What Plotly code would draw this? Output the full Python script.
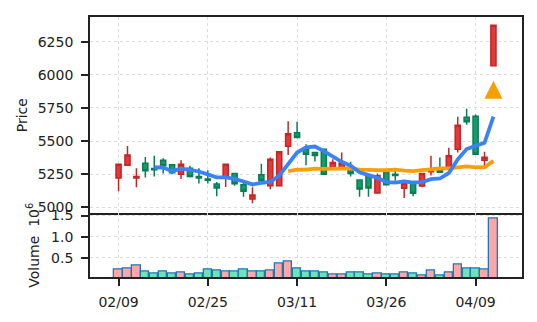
import plotly.graph_objects as go
from plotly.subplots import make_subplots
import pandas as pd

# ---- data ----
opens  = [5220, 5318, 5220, 5333, 5292, 5355, 5320, 5250, 5295, 5233,
          5213, 5175, 5228, 5255, 5170, 5063, 5245, 5163, 5163, 5460,
          5563, 5438, 5413, 5438, 5300, 5300, 5300, 5205, 5233, 5108,
          5263, 5250, 5143, 5180, 5160, 5268, 5280, 5300, 5438, 5680,
          5688, 5355, 6068]
highs  = [5325, 5463, 5295, 5380, 5388, 5370, 5325, 5355, 5313, 5295,
          5280, 5190, 5325, 5258, 5188, 5150, 5328, 5375, 5420, 5650,
          5645, 5475, 5420, 5440, 5363, 5413, 5343, 5208, 5235, 5255,
          5265, 5280, 5183, 5185, 5258, 5388, 5375, 5450, 5683, 5743,
          5700, 5420, 6375]
lows   = [5120, 5315, 5150, 5225, 5233, 5255, 5250, 5213, 5225, 5180,
          5180, 5083, 5153, 5163, 5080, 5030, 5198, 5135, 5160, 5395,
          5525, 5318, 5345, 5248, 5298, 5298, 5233, 5080, 5080, 5105,
          5168, 5200, 5070, 5083, 5150, 5240, 5263, 5298, 5413, 5623,
          5400, 5310, 6068]
closes = [5325, 5395, 5232, 5275, 5283, 5313, 5260, 5325, 5232, 5220,
          5203, 5145, 5325, 5178, 5120, 5093, 5200, 5363, 5420, 5555,
          5527, 5400, 5390, 5250, 5338, 5335, 5255, 5138, 5145, 5238,
          5170, 5240, 5180, 5105, 5255, 5280, 5265, 5388, 5620, 5645,
          5400, 5378, 6375]
volumes = [217000, 248000, 312000, 170000, 137000, 170000, 123000, 147000, 99000, 123000,
           217000, 194000, 184000, 170000, 217000, 184000, 184000, 190000, 359000, 410000,
           241000, 175000, 177000, 147000, 99000, 99000, 147000, 147000, 99000, 123000,
           99000, 99000, 147000, 130000, 76000, 194000, 76000, 147000, 333000, 241000,
           241000, 217000, 1423000]
signal_index = [42]
signal_price = [5955]
tick_labels = ["02/09", "02/25", "03/11", "03/26", "04/09"]

n = len(closes)
idx = list(range(n))
close_s = pd.Series(closes)
ma5 = close_s.rolling(5).mean()
ma20 = close_s.rolling(20).mean()
vol_m = [v / 1e6 for v in volumes]
up = [c >= o for o, c in zip(opens, closes)]

RED_FILL, RED_LINE = "#e23a3a", "#c42525"
GRN_FILL, GRN_LINE = "#139c6c", "#0b7d55"

fig = make_subplots(rows=2, cols=1, shared_xaxes=True, vertical_spacing=0,
                    row_heights=[0.752, 0.248])

fig.add_trace(go.Candlestick(
    x=idx, open=opens, high=highs, low=lows, close=closes,
    increasing=dict(fillcolor=RED_FILL, line=dict(color=RED_LINE, width=1.5)),
    decreasing=dict(fillcolor=GRN_FILL, line=dict(color=GRN_LINE, width=1.5)),
    whiskerwidth=0, showlegend=False), row=1, col=1)

fig.add_trace(go.Scatter(x=idx, y=ma20, mode="lines",
                         line=dict(color="#f5a00a", width=3.8), showlegend=False), row=1, col=1)
fig.add_trace(go.Scatter(x=idx, y=ma5, mode="lines",
                         line=dict(color="#3b82f6", width=3.8), showlegend=False), row=1, col=1)
fig.add_trace(go.Scatter(x=signal_index, y=signal_price, mode="markers",
                         marker=dict(symbol="arrow-up", size=18, color="#f5a000",
                                     line=dict(width=0)),
                         showlegend=False), row=1, col=1)

fig.add_trace(go.Bar(x=idx, y=vol_m, width=0.92,
                     marker=dict(color=["#ffa6a6" if u else "#6ee3b4" for u in up],
                                 line=dict(color="#1f77b4", width=1.3)),
                     showlegend=False), row=2, col=1)

axis_common = dict(showline=True, linecolor="#222", linewidth=1.8,
                   showgrid=True, gridcolor="#dcdcdc", gridwidth=1.3, griddash="dot",
                   zeroline=False, tickfont=dict(family="DejaVu Sans", size=14, color="#222"),
                   tickcolor="#222", tickwidth=1.5)

xr = [-3.2, 45.2]
fig.update_xaxes(range=xr, tickmode="array", tickvals=list(range(0, n, 10))[:len(tick_labels)],
                 ticktext=tick_labels, rangeslider=dict(visible=False), **axis_common)
fig.update_xaxes(ticks="", showticklabels=False, mirror=True, row=1, col=1)
fig.update_xaxes(ticks="outside", ticklen=7, ticklabelstandoff=4, mirror=False, row=2, col=1)

fig.update_yaxes(mirror=True, **axis_common)
fig.update_yaxes(range=[4960, 6437], tickvals=[5000, 5250, 5500, 5750, 6000, 6250],
                 ticks="outside", ticklen=7, ticklabelstandoff=5, row=1, col=1)
fig.update_yaxes(range=[0.043, 1.572], tickvals=[0.5, 1.0, 1.5], tickformat=".1f",
                 ticks="outside", ticklen=7, ticklabelstandoff=5, row=2, col=1)

fig.add_annotation(text="Price", xref="paper", yref="paper", x=-0.1586, y=0.624,
                   xanchor="center", yanchor="middle", textangle=-90, showarrow=False,
                   font=dict(family="DejaVu Sans", size=14, color="#222"))
fig.add_annotation(text="Volume  10<sup>6</sup>", xref="paper", yref="paper", x=-0.1308, y=0.122,
                   xanchor="center", yanchor="middle", textangle=-90, showarrow=False,
                   font=dict(family="DejaVu Sans", size=14, color="#222"))

fig.update_layout(width=537, height=322, margin=dict(l=90, r=15, t=15, b=45),
                  paper_bgcolor="white", plot_bgcolor="white", boxgap=0.18,
                  bargap=0, font=dict(family="DejaVu Sans", size=14, color="#222"))

fig.write_html("out.html")
